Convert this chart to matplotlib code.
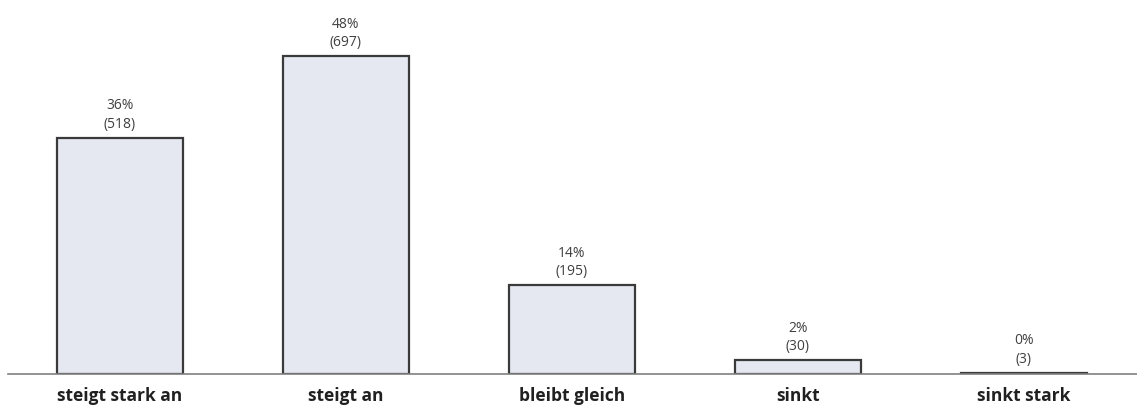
import matplotlib
matplotlib.use("Agg")
import matplotlib.pyplot as plt

categories = ["steigt stark an", "steigt an", "bleibt gleich", "sinkt", "sinkt stark"]
counts = [518, 697, 195, 30, 3]
percents = ["36%", "48%", "14%", "2%", "0%"]

plt.rcParams['font.family'] = ['Open Sans', 'DejaVu Sans']

fig = plt.figure(figsize=(11.37, 4.14), dpi=100)
ax = fig.add_axes([8/1137, 39/414, 1 - 8/1137, 375/414])

x = range(len(categories))
bars = ax.bar(x, counts, width=0.555, color="#e5e8f1", edgecolor="#3a3a3a", linewidth=1.6, zorder=2)

for xi, c, p in zip(x, counts, percents):
    ax.annotate(f"{p}\n({c})", (xi, c), xytext=(0, 5), textcoords="offset points",
                ha="center", va="bottom", fontsize=10, color="#404040", linespacing=1.3)

ax.set_xlim(-0.495, 4.5)
ax.set_ylim(0, 822)
for s in ["top", "right", "left"]:
    ax.spines[s].set_visible(False)
ax.spines["bottom"].set_color("#808080")
ax.spines["bottom"].set_linewidth(1.2)
ax.set_yticks([])
ax.set_xticks(list(x))
ax.set_xticklabels(categories, fontsize=12.5, fontweight="bold", color="#202020")
ax.tick_params(axis="x", length=0, pad=9)

fig.savefig("out.png", dpi=100)
